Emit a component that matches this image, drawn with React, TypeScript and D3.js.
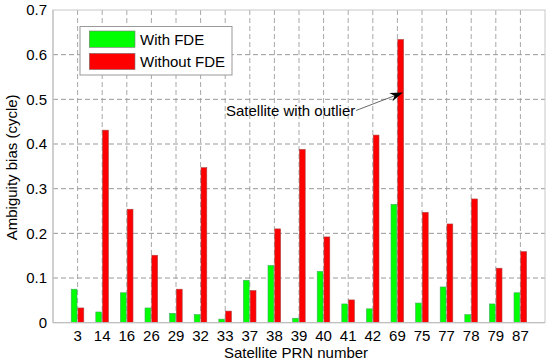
import React from "react";
import * as d3 from "d3";

const categories = ["3","14","16","26","29","32","33","37","38","39","40","41","42","69","75","77","78","79","87"];
const withFDE = [0.075,0.024,0.067,0.033,0.021,0.018,0.008,0.095,0.128,0.010,0.115,0.042,0.031,0.265,0.044,0.080,0.018,0.042,0.067];
const withoutFDE = [0.033,0.431,0.254,0.151,0.075,0.347,0.026,0.072,0.210,0.388,0.192,0.051,0.420,0.634,0.247,0.221,0.277,0.122,0.159];
const yTicks = [0,0.1,0.2,0.3,0.4,0.5,0.6,0.7];
const yTickLabels = ["0","0.1","0.2","0.3","0.4","0.5","0.6","0.7"];
const seriesNames = ["With FDE","Without FDE"];
const colors = ["#00ff00","#ff0000"];

export default function App() {
  const W = 550, H = 364;
  const L = 53, R = 545, T = 10, B = 322.7;
  const x = d3.scaleLinear().domain([0, categories.length + 1]).range([L, R]);
  const y = d3.scaleLinear().domain([0, 0.7]).range([B, T]);
  const bw = 5.8;
  const fs = 15;
  const font = "'Liberation Sans', Arial, Helvetica, sans-serif";
  const tip = { x: 403, y: 92.5 };
  const start = { x: 356, y: 110.5 };
  const ang = Math.atan2(tip.y - start.y, tip.x - start.x);
  const ah = 13, aw = 4.5;
  const back = { x: tip.x - ah * Math.cos(ang), y: tip.y - ah * Math.sin(ang) };
  const notch = { x: tip.x - ah * 0.7 * Math.cos(ang), y: tip.y - ah * 0.7 * Math.sin(ang) };
  const px = -Math.sin(ang), py = Math.cos(ang);
  const arrowPts = [
    [tip.x, tip.y],
    [back.x + px * aw, back.y + py * aw],
    [notch.x, notch.y],
    [back.x - px * aw, back.y - py * aw],
  ].map(p => p.join(",")).join(" ");

  return (
    <svg width={W} height={H} style={{ position: "absolute", left: 0, top: 0, background: "#fff" }} fontFamily={font}>
      <rect x={0} y={0} width={W} height={H} fill="#fff" />
      {/* grid */}
      {categories.map((c, i) => (
        <line key={"vg" + c} x1={x(i + 1)} x2={x(i + 1)} y1={T} y2={B} stroke="#a8a8a8" strokeWidth={1} strokeDasharray="5,3" />
      ))}
      {yTicks.slice(1, -1).map(t => (
        <line key={"hg" + t} x1={L} x2={R} y1={y(t)} y2={y(t)} stroke="#999" strokeWidth={1} strokeDasharray="5,3" />
      ))}
      {/* bars */}
      {categories.map((c, i) => (
        <g key={"b" + c}>
          <rect x={x(i + 1) - 0.6 - bw} y={y(withFDE[i])} width={bw} height={B - y(withFDE[i])} fill={colors[0]} stroke="#4a6" strokeWidth={0.6} />
          <rect x={x(i + 1) + 0.4} y={y(withoutFDE[i])} width={bw} height={B - y(withoutFDE[i])} fill={colors[1]} stroke="#a44" strokeWidth={0.6} />
        </g>
      ))}
      {/* frame */}
      <rect x={L} y={T} width={R - L} height={B - T} fill="none" stroke="#c8c8c8" strokeWidth={1} />
      <line x1={L} x2={L} y1={T} y2={B} stroke="#bbb" />
      <line x1={L} x2={R} y1={B} y2={B} stroke="#bbb" />
      {/* y ticks */}
      {yTicks.map((t, i) => (
        <text key={"yt" + t} x={47} y={y(t)} dy="0.35em" textAnchor="end" fontSize={fs} fill="#000">{yTickLabels[i]}</text>
      ))}
      {/* x ticks */}
      {categories.map((c, i) => (
        <text key={"xt" + c} x={x(i + 1)} y={340.5} textAnchor="middle" fontSize={fs} fill="#000">{c}</text>
      ))}
      <text x={296} y={358} textAnchor="middle" fontSize={fs} fill="#000">Satellite PRN number</text>
      <text transform={`translate(17,${(T + B) / 2 + 1}) rotate(-90)`} textAnchor="middle" fontSize={fs} fill="#000">Ambiguity bias (cycle)</text>
      {/* legend */}
      <rect x={80} y={26.5} width={152} height={48.5} fill="#fff" stroke="#999" strokeWidth={1} />
      {seriesNames.map((s, i) => (
        <g key={"lg" + s}>
          <rect x={89.3} y={31 + i * 22.3} width={45.7} height={16.3} fill={colors[i]} stroke="#777" strokeWidth={0.6} />
          <text x={140} y={39.5 + i * 22.3} dy="0.35em" fontSize={fs} fill="#000">{s}</text>
        </g>
      ))}
      {/* annotation */}
      <text x={226} y={116} fontSize={fs} fill="#000">Satellite with outlier</text>
      <line x1={start.x} y1={start.y} x2={notch.x} y2={notch.y} stroke="#444" strokeWidth={0.8} />
      <polygon points={arrowPts} fill="#000" />
    </svg>
  );
}
